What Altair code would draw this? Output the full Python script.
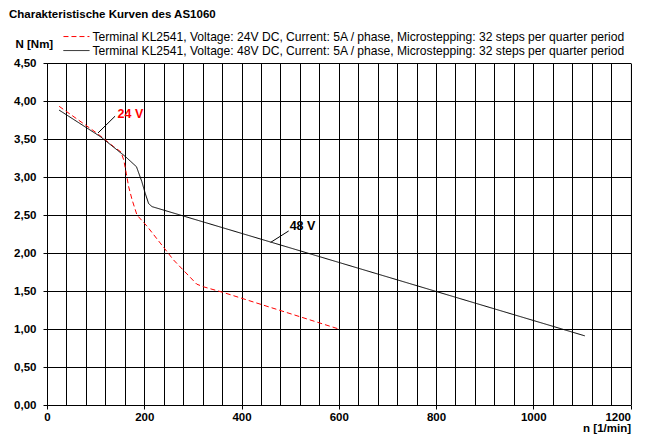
import altair as alt
import pandas as pd

FONT = "Liberation Sans"

title_text = "Charakteristische Kurven des AS1060"
lab24 = "Terminal KL2541, Voltage: 24V DC, Current: 5A / phase, Microstepping: 32 steps per quarter period"
lab48 = "Terminal KL2541, Voltage: 48V DC, Current: 5A / phase, Microstepping: 32 steps per quarter period"

# 24 V curve (red dashed)
x24 = [25, 103, 137, 152, 158, 163, 168, 175, 185, 206, 260, 308, 322, 363, 600]
y24 = [3.93, 3.575, 3.40, 3.33, 3.22, 3.05, 2.87, 2.70, 2.50, 2.35, 1.91, 1.59, 1.555, 1.48, 1.00]

# 48 V curve (black solid)
x48 = [25, 110, 161, 184, 195, 202, 209, 216, 1106]
y48 = [3.88, 3.53, 3.27, 3.135, 2.94, 2.785, 2.65, 2.61, 0.91]

# annotations
ann_text = ["24 V", "48 V"]
ann_color = ["#ff0000", "#000000"]
ann_x0 = [105, 460]
ann_y0 = [3.58, 2.14]
ann_x1 = [140, 497]
ann_y1 = [3.80, 2.29]
ann_tx = [145, 499]
ann_ty = [3.83, 2.35]

x_ticks = list(range(0, 1201, 40))
y_ticks = [0, 0.5, 1.0, 1.5, 2.0, 2.5, 3.0, 3.5, 4.0, 4.5]

rows = []
for i, (a, b) in enumerate(zip(x24, y24)):
    rows.append({"series": lab24, "x": a, "y": b, "i": i})
for i, (a, b) in enumerate(zip(x48, y48)):
    rows.append({"series": lab48, "x": a, "y": b, "i": i})
df = pd.DataFrame(rows)

ann = pd.DataFrame({"t": ann_text, "c": ann_color, "x0": ann_x0, "y0": ann_y0,
                    "x1": ann_x1, "y1": ann_y1, "tx": ann_tx, "ty": ann_ty})

xscale = alt.Scale(domain=[0, 1200], nice=False, zero=False)
yscale = alt.Scale(domain=[0, 4.5], nice=False, zero=False)

xaxis = alt.Axis(
    values=x_ticks, tickCount=200, grid=True, gridColor="black", gridOpacity=1, gridWidth=1,
    domainColor="black", domainWidth=1,
    labelExpr="datum.value % 200 == 0 ? format(datum.value, 'd') : ''",
    labelAlign={"condition": {"test": "datum.value == 1200", "value": "right"}, "value": "center"},
    labelFont=FONT, labelFontSize=11.5, labelFontWeight="bold", labelColor="black",
    labelPadding=2, labelFlush=False, labelOverlap=False,
    tickColor="black", tickSize=4,
    tickOpacity={"condition": {"test": "datum.value % 200 == 0", "value": 1}, "value": 0},
    title="n [1/min]", titleFont=FONT, titleFontSize=11.5, titleFontWeight="bold",
    titleColor="black", titleX=583.5, titleY=23.5, titleAlign="right",
    titleBaseline="middle",
)
yaxis = alt.Axis(
    values=y_ticks, tickCount=200, grid=True, gridColor="black", gridOpacity=1, gridWidth=1,
    domainColor="black", domainWidth=1,
    labelExpr="replace(format(datum.value, '.2f'), '.', ',')",
    labelFont=FONT, labelFontSize=11.5, labelFontWeight="bold", labelColor="black",
    labelPadding=7, labelFlush=False, labelOverlap=False,
    tickColor="black", tickSize=4,
    title="N [Nm]", titleFont=FONT, titleFontSize=11.5, titleFontWeight="bold",
    titleColor="black", titleAngle=0, titleX=-32, titleY=-18.5, titleAlign="left",
    titleBaseline="middle",
)

leg = dict(title=None, orient="none", legendX=23.4, legendY=-32.5,
           symbolType="M-3,0H3", symbolSize=75, symbolStrokeWidth=1,
           labelFont=FONT, labelFontSize=12.1, labelColor="black",
           labelLimit=700, labelOffset=10, rowPadding=1, padding=0)

lines = alt.Chart(df).mark_line(strokeWidth=1).encode(
    x=alt.X("x:Q", scale=xscale, axis=xaxis),
    y=alt.Y("y:Q", scale=yscale, axis=yaxis),
    color=alt.Color("series:N",
                    scale=alt.Scale(domain=[lab24, lab48], range=["#ff0000", "#000000"]),
                    legend=alt.Legend(**leg)),
    strokeDash=alt.StrokeDash("series:N",
                              scale=alt.Scale(domain=[lab24, lab48], range=[[5, 3], [1, 0]]),
                              legend=alt.Legend(**leg)),
    order="i:Q",
)

leaders = alt.Chart(ann).mark_rule(color="black", strokeWidth=1).encode(
    x="x0:Q", y="y0:Q", x2="x1:Q", y2="y1:Q",
)

ann_text_layer = alt.Chart(ann).mark_text(
    align="left", baseline="middle", font=FONT, fontSize=12.5, fontWeight="bold"
).encode(
    x="tx:Q", y="ty:Q", text="t:N", color=alt.Color("c:N", scale=None),
)

title_layer = alt.Chart(pd.DataFrame({"t": [title_text]})).mark_text(
    align="left", baseline="middle", font=FONT, fontSize=11.5, fontWeight="bold", color="black"
).encode(
    x=alt.value(-38), y=alt.value(-48), text="t:N",
)

chart = alt.layer(lines, leaders, ann_text_layer, title_layer).properties(
    width=583.5, height=342,
    autosize=alt.AutoSizeParams(type="none"),
    padding={"left": 39, "top": 55, "right": 23, "bottom": 34},
).configure_view(strokeWidth=0).configure(background="white")

chart.save("out.html", embed_options={"renderer": "svg", "actions": False})
